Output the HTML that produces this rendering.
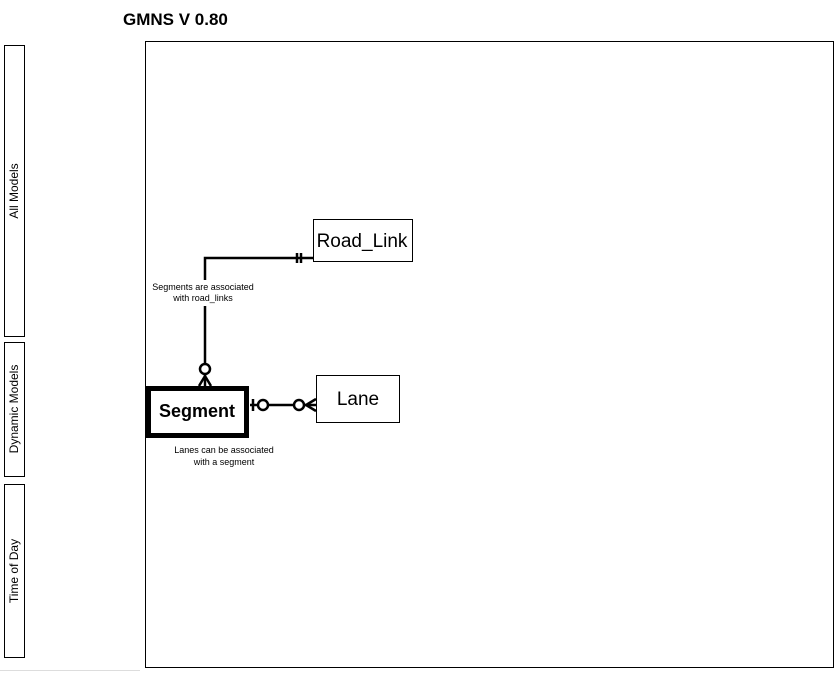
<!DOCTYPE html>
<html><head><meta charset="utf-8"><style>
body{margin:0;background:#fff;width:839px;height:673px;overflow:hidden;font-family:"Liberation Sans",Calibri,sans-serif}
</style></head><body>
<svg width="839" height="673" xmlns="http://www.w3.org/2000/svg" font-family="Liberation Sans, sans-serif">
<text x="123" y="25" font-size="17" font-weight="bold" fill="#000">GMNS V 0.80</text>
<g fill="none" stroke="#000" stroke-width="1">
<rect x="4.5" y="45.5" width="20" height="291"/>
<rect x="4.5" y="342.5" width="20" height="134"/>
<rect x="4.5" y="484.5" width="20" height="173"/>
<rect x="145.5" y="41.5" width="688" height="626"/>
<rect x="313.5" y="219.5" width="99" height="42"/>
<rect x="316.5" y="375.5" width="83" height="47"/>
</g>
<line x1="0" y1="670.5" x2="140" y2="670.5" stroke="#ddd"/>
<rect x="148.5" y="388.5" width="98" height="47" fill="none" stroke="#000" stroke-width="5"/>
<g font-size="12" fill="#000">
<text transform="translate(18,191) rotate(-90)" text-anchor="middle">All Models</text>
<text transform="translate(18,409) rotate(-90)" text-anchor="middle">Dynamic Models</text>
<text transform="translate(18,571) rotate(-90)" text-anchor="middle">Time of Day</text>
</g>
<text x="362" y="247" font-size="19" text-anchor="middle">Road_Link</text>
<text x="358" y="405" font-size="19" text-anchor="middle">Lane</text>
<text x="197" y="417" font-size="18" font-weight="bold" text-anchor="middle">Segment</text>
<g font-size="9" text-anchor="middle">
<text x="203" y="290">Segments are associated</text>
<text x="203" y="301">with road_links</text>
<text x="224" y="453">Lanes can be associated</text>
<text x="224" y="465">with a segment</text>
</g>
<g fill="none" stroke="#000" stroke-width="2.5">
<polyline points="313,258 205,258 205,280"/>
<line x1="205" y1="306" x2="205" y2="364"/>
<line x1="297" y1="253" x2="297" y2="263"/>
<line x1="301" y1="253" x2="301" y2="263"/>
<circle cx="205" cy="369" r="5" fill="#fff"/>
<polyline points="199,386 205,376 211,386"/>
<line x1="205" y1="374" x2="205" y2="386"/>
<line x1="250" y1="405" x2="258" y2="405"/>
<line x1="253" y1="399" x2="253" y2="411"/>
<circle cx="263" cy="405" r="5" fill="#fff"/>
<line x1="268" y1="405" x2="294" y2="405"/>
<circle cx="299" cy="405" r="5" fill="#fff"/>
<line x1="304" y1="405" x2="316" y2="405"/>
<polyline points="316,399 306,405 316,411"/>
</g>
</svg>
</body></html>
